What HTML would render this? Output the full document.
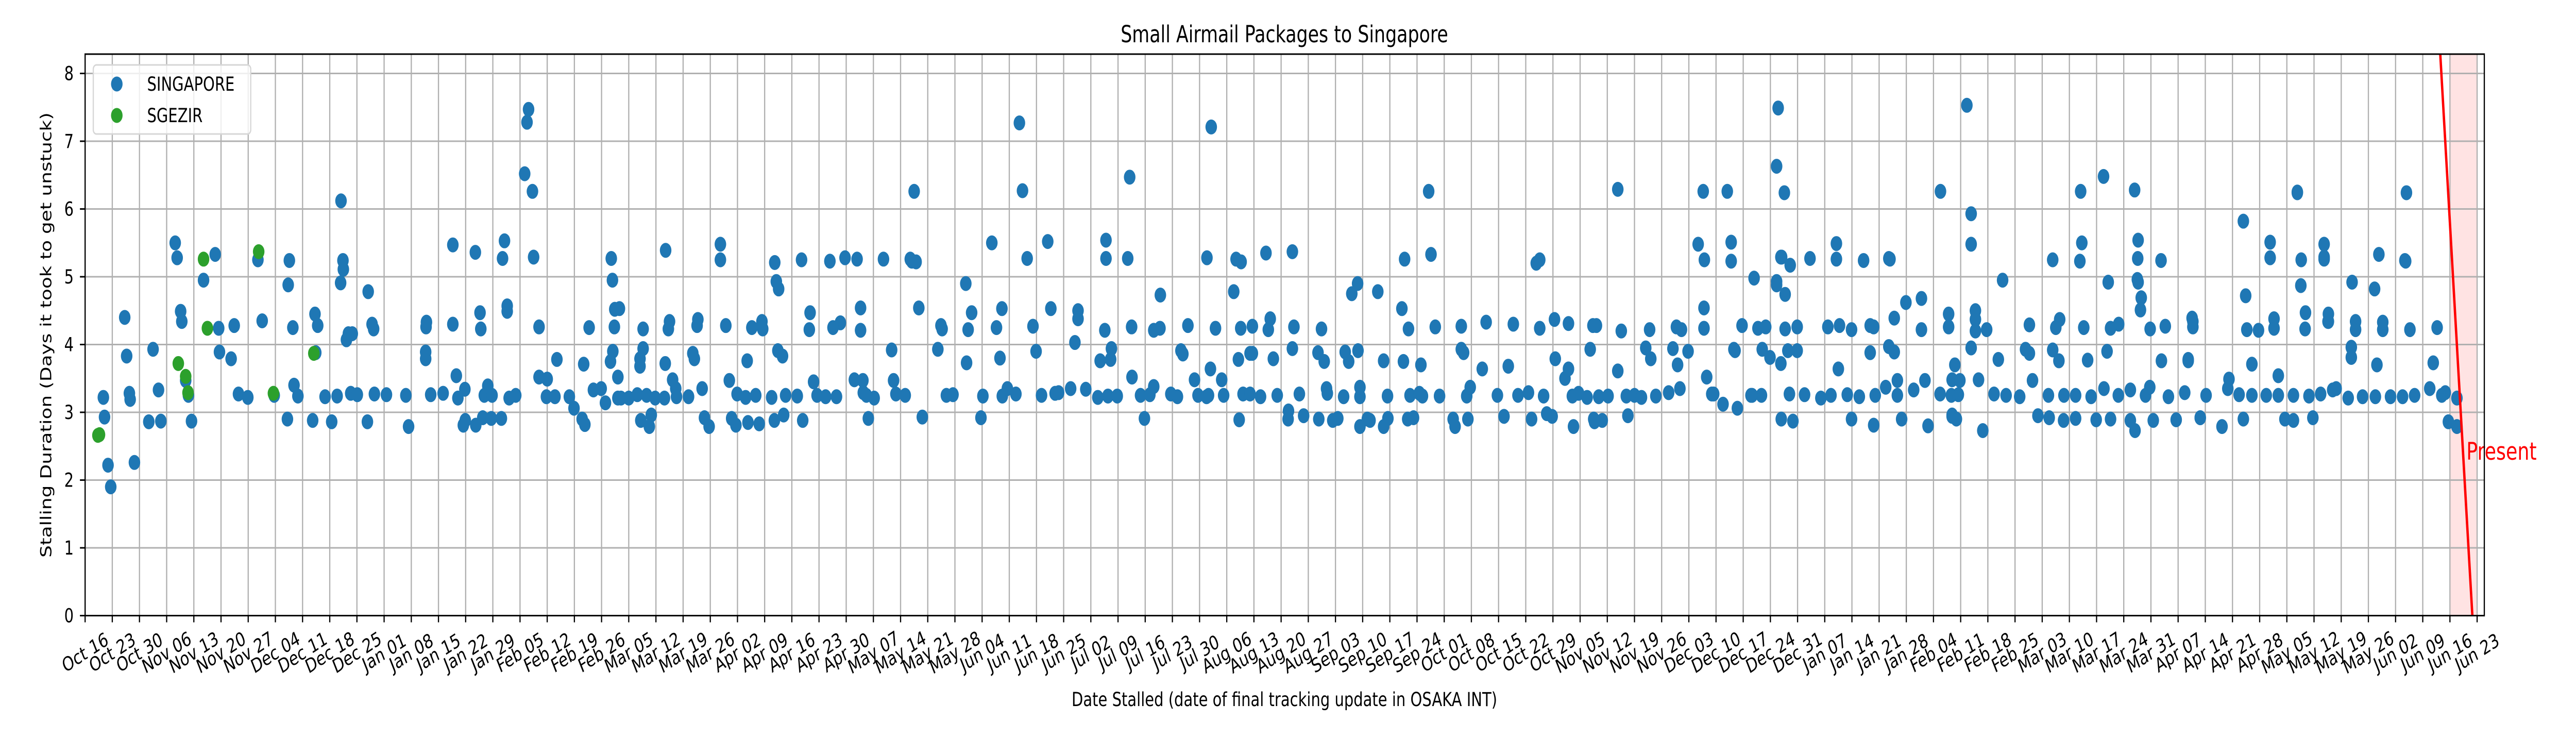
<!DOCTYPE html>
<html><head><meta charset="utf-8"><meta name="viewport" content="width=6462, initial-scale=1"><title>Small Airmail Packages to Singapore</title>
<style>
html,body{margin:0;padding:0;background:#fff;width:100%;height:100%;overflow:hidden;}
svg{display:block;position:fixed;left:0;top:0;width:100vw;height:100vh;overflow:hidden;font-family:"DejaVu Sans","Liberation Sans",sans-serif;}
</style></head>
<body>
<svg id="chart" viewBox="0 0 6462 1430" preserveAspectRatio="none" xmlns="http://www.w3.org/2000/svg">
  <defs><clipPath id="axclip"><rect x="213.5" y="105" width="6018.5" height="1089.5"/></clipPath></defs>
  <rect x="0" y="0" width="6462" height="1430" fill="#fff"/>
  <g id="bg"></g>
  <g id="grid"></g>
  <g id="marks"></g>
  <g id="overlay"></g>
  <g id="axes"></g>
  <text x="3222" y="82" font-size="45" text-anchor="middle" fill="#000">Small Airmail Packages to Singapore</text>
  <text x="3222" y="1370" font-size="37.5" text-anchor="middle" fill="#000">Date Stalled (date of final tracking update in OSAKA INT)</text>
  <text x="116" y="650" font-size="37.5" text-anchor="middle" dominant-baseline="central" transform="rotate(-90 116 650)" fill="#000">Stalling Duration (Days it took to get unstuck)</text>
  <g id="legend">
    <rect x="234" y="126" width="395" height="134" rx="8" fill="rgba(255,255,255,0.8)" stroke="#d6d6d6" stroke-width="3"/>
    <g>
      <circle cx="293" cy="163" r="14.5" fill="#1f77b4"/>
      <text x="369" y="163" font-size="37.5" dominant-baseline="central">SINGAPORE</text>
    </g>
    <g>
      <circle cx="293" cy="224" r="14.5" fill="#2ca02c"/>
      <text x="369" y="224" font-size="37.5" dominant-baseline="central">SGEZIR</text>
    </g>
  </g>
</svg>
<script>
const sgDays = [65.9,23.2,23.7,33.5,30.5,44.5,52.6,52.3,66.4,66.5,65.8,10.2,24.6,24.9,34.4,38.4,45.6,53.5,59.2,59.9,67.8,67.3,10.7,17.5,34.6,37.6,59.4,4.7,11.4,11.6,18.9,25.9,26.6,39.5,41.9,48.7,53.8,54.8,61.8,64.9,68.4,5.0,16.4,19.5,27.4,52.1,58.6,63.5,5.9,12.7,6.6,
114.2,113.8,113.2,115.2,94.7,100.5,108.0,107.5,115.5,135.5,135.8,72.9,73.9,74.3,87.9,87.8,94.7,101.7,101.9,108.7,108.7,116.9,129.8,136.4,136.3,68.8,87.7,87.7,121.5,128.4,135.9,135.3,137.2,116.9,119.0,95.6,70.1,74.5,77.6,82.6,89.0,92.2,96.0,97.8,103.7,102.8,104.8,109.2,110.9,118.8,121.0,124.7,125.9,130.9,132.9,134.0,137.2,72.7,83.3,97.9,97.4,100.6,102.4,104.6,107.2,128.0,128.7,
149.5,163.6,163.6,177.6,178.0,178.6,184.5,191.8,195.7,198.8,205.6,137.6,143.7,150.5,150.2,157.8,157.6,165.0,171.7,174.3,174.5,186.7,186.5,194.5,192.6,199.7,199.7,143.7,142.9,142.9,149.4,156.5,156.9,170.5,178.4,179.6,151.3,152.1,158.9,165.9,187.6,198.1,200.3,200.4,138.0,140.0,142.2,144.6,146.8,149.2,152.3,155.4,167.9,170.1,172.7,176.8,180.4,183.4,188.5,190.7,193.5,201.2,203.2,143.1,145.3,145.8,159.5,160.7,166.5,167.6,170.7,173.6,177.5,179.9,184.8,201.7,
240.6,213.5,241.4,269.0,212.5,212.9,226.8,233.5,242.6,247.9,262.9,262.9,268.5,214.0,214.7,220.7,227.4,228.3,234.7,236.1,244.1,248.7,255.7,255.7,262.6,269.5,275.2,220.4,219.6,227.0,235.6,244.9,254.9,261.4,264.1,264.3,269.6,207.7,208.2,211.2,221.8,223.5,231.2,236.2,237.5,239.7,246.3,249.8,250.7,253.8,257.7,260.8,263.4,265.8,271.8,274.2,208.8,215.6,230.7,272.8,
297.2,290.0,296.4,297.7,304.1,310.9,339.8,288.9,295.8,326.2,327.7,332.9,339.1,276.9,284.0,291.1,297.6,300.6,304.7,305.2,311.3,318.4,340.8,276.8,282.2,282.7,289.8,297.0,300.0,300.6,306.0,310.9,317.5,319.1,324.5,325.4,327.8,339.5,334.4,292.7,285.7,275.2,279.6,281.3,286.6,288.8,293.2,298.2,300.0,302.7,307.0,312.7,319.9,319.7,324.1,328.3,328.3,335.4,341.2,343.6,289.3,309.8,309.9,313.8,317.7,321.3,322.6,328.3,330.9,330.2,334.4,335.5,340.6,342.1,
388.7,394.7,346.0,373.7,374.6,346.6,354.4,360.8,367.8,374.6,378.4,382.0,388.3,389.2,395.6,402.9,409.8,411.1,347.7,354.4,355.0,359.8,366.5,378.6,381.1,382.0,387.6,394.7,403.2,401.9,410.1,408.9,344.0,348.8,355.8,356.7,363.7,369.0,371.7,375.6,383.0,384.6,386.8,389.8,392.2,396.9,399.0,400.8,404.5,407.8,410.7,344.4,352.3,352.8,356.1,365.4,372.5,376.4,377.8,383.3,388.5,390.7,397.3,
436.8,436.0,435.6,437.6,422.9,477.8,416.7,415.4,417.0,423.9,423.9,436.9,436.7,439.1,444.2,451.0,451.0,458.0,464.5,464.8,429.8,435.6,435.6,437.8,468.9,472.9,416.9,426.7,430.8,432.8,437.8,440.9,448.8,451.8,454.9,459.7,460.6,465.9,472.9,479.9,479.9,416.9,424.6,424.9,433.9,431.9,436.7,440.9,438.5,451.5,459.7,465.9,464.5,412.8,418.9,417.6,419.4,421.8,425.5,429.0,431.7,438.9,442.8,447.0,449.6,453.8,456.9,461.0,463.7,466.7,466.7,470.9,473.8,477.7,480.6,480.8,429.3,439.8,454.9,460.6,467.8,474.6,480.8,480.8,
527.9,484.6,519.8,527.8,513.9,485.7,485.7,506.7,513.7,528.6,528.7,534.6,514.2,521.0,528.7,528.5,529.5,529.3,542.6,493.8,486.8,486.8,489.7,500.7,507.5,508.5,514.7,521.6,523.7,531.8,535.7,542.8,542.8,486.8,485.7,492.7,500.7,499.7,508.3,506.7,515.7,520.7,534.7,541.6,541.6,481.5,487.6,501.5,482.8,491.6,494.7,498.2,505.6,509.6,512.6,516.6,519.9,523.6,526.7,530.6,531.7,536.5,540.7,546.2,482.4,481.9,488.7,502.9,505.8,509.5,512.6,517.9,521.6,526.7,532.6,538.5,544.7,544.7,550.3,
555.8,569.7,597.8,569.7,555.8,562.7,562.7,570.7,576.6,576.6,576.6,583.8,590.7,597.4,597.6,570.6,589.6,556.4,559.7,563.7,563.7,571.7,571.8,577.6,577.7,577.7,584.7,584.7,591.7,591.7,598.7,605.7,556.7,583.6,583.6,590.2,604.7,558.0,564.8,552.1,554.7,558.0,561.7,564.8,568.7,572.7,575.7,578.8,579.7,582.8,586.5,589.8,593.7,596.8,599.9,603.8,606.9,607.8,610.8,551.8,566.5,568.7,573.7,608.6,610.8];
const sgValues = [6.12,5.50,5.28,5.33,4.95,5.25,5.24,4.88,5.24,5.11,4.91,4.40,4.49,4.34,4.24,4.28,4.35,4.25,4.45,4.28,4.16,4.07,3.83,3.93,3.89,3.79,3.88,3.22,3.28,3.19,3.33,3.47,3.25,3.27,3.22,3.25,3.40,3.24,3.23,3.24,3.28,2.93,2.86,2.87,2.87,2.90,2.88,2.86,2.22,2.26,1.90,
7.47,7.28,6.52,6.26,5.47,5.36,5.53,5.27,5.29,5.27,4.95,4.78,4.30,4.23,4.33,4.26,4.30,4.47,4.23,4.57,4.49,4.26,4.25,4.52,4.26,4.16,3.89,3.79,3.78,3.71,3.90,3.75,3.52,3.52,3.49,3.54,3.26,3.27,3.26,3.25,3.26,3.28,3.21,3.34,3.39,3.25,3.25,3.21,3.25,3.23,3.23,3.23,3.06,3.33,3.35,3.14,3.21,2.86,2.79,2.88,2.81,2.81,2.92,2.91,2.91,2.90,2.82,
5.39,5.48,5.25,5.21,4.93,4.82,5.25,5.23,5.28,5.26,5.26,4.53,4.23,4.34,4.23,4.37,4.28,4.28,4.25,4.34,4.23,4.47,4.22,4.32,4.25,4.54,4.21,3.94,3.79,3.68,3.72,3.87,3.79,3.76,3.91,3.83,3.48,3.35,3.35,3.47,3.45,3.48,3.47,3.29,3.21,3.21,3.26,3.25,3.21,3.21,3.23,3.23,3.27,3.22,3.25,3.22,3.25,3.24,3.25,3.23,3.23,3.25,3.21,2.88,2.79,2.96,2.92,2.79,2.91,2.81,2.85,2.83,2.88,2.96,2.88,2.91,
7.27,6.26,6.27,6.47,5.26,5.23,4.90,5.50,5.27,5.52,5.27,5.54,5.27,5.22,4.54,4.23,4.22,4.47,4.25,4.53,4.27,4.53,4.50,4.38,4.21,4.26,4.21,4.28,3.93,3.73,3.80,3.90,4.03,3.76,3.78,3.94,3.52,3.92,3.47,3.25,3.25,3.26,3.24,3.24,3.35,3.27,3.25,3.28,3.29,3.35,3.34,3.22,3.24,3.24,3.25,3.26,3.27,2.93,2.92,2.91,2.89,
7.21,5.26,5.22,5.35,5.37,5.26,5.28,4.78,4.75,4.90,4.78,4.53,4.73,4.28,4.24,4.24,4.27,4.22,4.38,4.26,4.23,4.23,4.24,3.91,3.86,3.64,3.78,3.87,3.87,3.79,3.94,3.88,3.75,3.89,3.75,3.91,3.75,3.76,3.48,3.48,3.38,3.27,3.23,3.25,3.23,3.25,3.27,3.27,3.23,3.25,3.27,3.28,3.35,3.23,3.23,3.37,3.24,3.25,3.28,3.25,2.90,3.02,2.95,2.90,2.88,2.91,2.79,2.88,2.90,2.79,2.91,2.90,2.92,2.86,
6.29,6.26,5.20,5.25,5.33,4.27,4.33,4.30,4.24,4.37,4.31,4.28,4.28,4.20,4.22,4.26,4.22,4.26,3.93,3.88,3.64,3.68,3.79,3.50,3.64,3.93,3.61,3.79,3.95,3.70,3.94,3.70,3.24,3.24,3.37,3.25,3.25,3.29,3.24,3.24,3.28,3.22,3.23,3.24,3.24,3.25,3.22,3.24,3.29,3.35,3.24,2.90,2.79,2.90,2.94,2.90,2.98,2.94,2.79,2.90,2.88,2.95,2.90,
7.49,6.63,6.24,6.26,6.26,6.26,5.48,5.25,5.23,5.51,5.29,5.29,5.17,5.27,5.26,5.49,5.24,5.27,5.26,4.98,4.93,4.88,4.74,4.62,4.68,4.54,4.28,4.24,4.26,4.23,4.26,4.26,4.28,4.22,4.28,4.26,4.39,4.22,4.26,4.45,4.24,3.93,3.91,3.81,3.93,3.72,3.91,3.91,3.64,3.88,3.89,3.97,3.90,3.27,3.52,3.27,3.12,3.06,3.25,3.25,3.27,3.26,3.21,3.25,3.26,3.23,3.25,3.37,3.25,3.47,3.33,3.47,3.27,3.25,3.48,3.25,2.87,2.90,2.81,2.90,2.80,2.94,2.96,2.73,
7.53,6.48,6.28,6.26,5.93,5.48,5.25,5.23,5.27,5.54,5.24,5.50,4.92,4.92,4.96,4.69,4.51,4.39,4.95,4.50,4.37,4.22,4.29,4.25,4.37,4.25,4.24,4.30,4.23,4.27,4.26,4.34,4.20,3.95,3.78,3.87,3.93,3.76,3.92,3.77,3.90,3.76,3.78,3.76,3.70,3.48,3.47,3.47,3.27,3.25,3.23,3.25,3.25,3.25,3.23,3.35,3.25,3.33,3.25,3.37,3.23,3.29,3.25,3.26,2.90,2.73,2.95,2.92,2.88,2.91,2.89,2.90,2.88,2.88,2.89,2.92,2.92,2.79,2.90,
6.25,6.24,6.24,5.82,5.28,5.51,5.25,5.29,5.48,5.26,4.92,5.33,5.24,5.23,4.87,4.82,4.72,4.21,4.24,4.38,4.23,4.47,4.34,4.45,4.34,4.22,4.34,4.22,4.33,4.22,4.25,4.22,3.96,3.81,3.70,3.73,3.71,3.54,3.49,3.26,3.25,3.25,3.25,3.25,3.24,3.27,3.33,3.35,3.21,3.23,3.23,3.23,3.23,3.25,3.35,3.25,3.29,3.21,3.35,2.90,2.88,2.92,2.86,2.79,2.88];
const ezDays = [3.3,3.7,24.0,25.9,26.5,30.5,31.5,44.7,48.5,58.9];
const ezValues = [2.66,2.67,3.72,3.53,3.29,5.26,4.24,5.37,3.28,3.87];
const yTicks = [0,1,2,3,4,5,6,7,8];
const shadeStartDay = 609;
const shadeEndDay = 616;

const L = 213.5, R = 6232, T = 105, B = 1194.5;
const pxPerDay = 9.741, pxPerUnit = 131.5;
const xScale = d => L + d * pxPerDay;
const yScale = v => B - v * pxPerUnit;
const NS = "http://www.w3.org/2000/svg";
function mk(tag, attrs, parent) {
  const e = document.createElementNS(NS, tag);
  for (const k in attrs) e.setAttribute(k, attrs[k]);
  parent.appendChild(e);
  return e;
}
const gBg = document.getElementById('bg'), gGrid = document.getElementById('grid'),
      gMarks = document.getElementById('marks'), gOv = document.getElementById('overlay'),
      gAxes = document.getElementById('axes');

const span = mk('rect', {x: xScale(shadeStartDay), y: T, width: xScale(shadeEndDay) - xScale(shadeStartDay), height: B - T, fill: 'rgba(255,0,0,0.11)'}, gBg);



const months = ['Jan','Feb','Mar','Apr','May','Jun','Jul','Aug','Sep','Oct','Nov','Dec'];
const xTickDays = [];
for (let d = 0; d <= 616; d += 7) xTickDays.push(d);
const base = Date.UTC(2022, 9, 16);
xTickDays.forEach(d => {
  const dt = new Date(base + d * 86400000);
  const lab = months[dt.getUTCMonth()] + ' ' + String(dt.getUTCDate()).padStart(2, '0');
  const x = xScale(d);
  const gl = mk('line', {x1: x, x2: x, y1: T, y2: B, stroke: '#b0b0b0', 'stroke-width': 3}, gGrid);
  
  
  const tk = mk('line', {x1: x, x2: x, y1: B, y2: B + 13, stroke: '#000', 'stroke-width': 3}, gAxes);
  
  
  const yc = 1266;
  const t = mk('text', {x: x, y: yc, 'font-size': 37.5, 'text-anchor': 'middle', 'dominant-baseline': 'central', transform: `rotate(-27 ${x} ${yc})`}, gAxes);
  t.textContent = lab;
  
  
});

yTicks.forEach(v => {
  const y = yScale(v);
  const gl = mk('line', {x1: L, x2: R, y1: y, y2: y, stroke: '#b0b0b0', 'stroke-width': 3}, gGrid);
  
  
  const tk = mk('line', {x1: L - 13, x2: L, y1: y, y2: y, stroke: '#000', 'stroke-width': 3}, gAxes);
  
  
  const t = mk('text', {x: 185, y: y, 'font-size': 37.5, 'text-anchor': 'end', 'dominant-baseline': 'central'}, gAxes);
  t.textContent = String(v);
  
  
});

sgDays.forEach((d, i) => {
  const c = mk('circle', {cx: xScale(d), cy: yScale(sgValues[i]), r: 14.5, fill: '#1f77b4'}, gMarks);
  
  
});
ezDays.forEach((d, i) => {
  const c = mk('circle', {cx: xScale(d), cy: yScale(ezValues[i]), r: 14.5, fill: '#2ca02c'}, gMarks);
  
  
});

const pl = mk('line', {x1: 6121.5, y1: T, x2: 6202, y2: B, stroke: '#ff0000', 'stroke-width': 6, 'clip-path': 'url(#axclip)'}, gOv);


const pt = mk('text', {x: 6187, y: 892, 'font-size': 47, fill: '#ff0000'}, gOv);
pt.textContent = 'Present';



const fr = mk('rect', {x: L, y: T, width: R - L, height: B - T, fill: 'none', stroke: '#000', 'stroke-width': 3}, gAxes);


</script>
</body></html>
